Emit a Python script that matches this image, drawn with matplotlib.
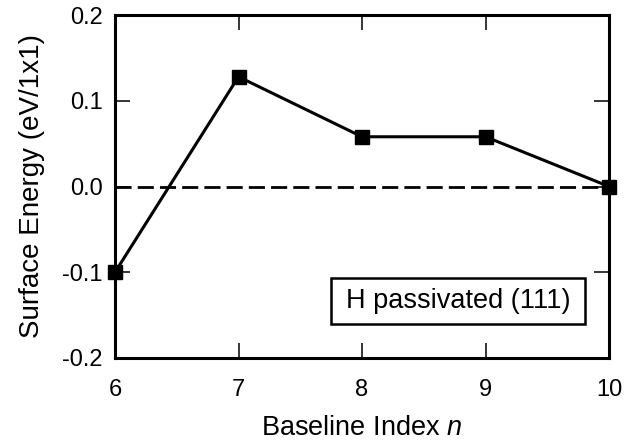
import matplotlib
matplotlib.use("Agg")
import matplotlib.pyplot as plt
from matplotlib.patches import Rectangle

plt.rcParams['font.family'] = ['Liberation Sans', 'DejaVu Sans']
plt.rcParams['mathtext.fontset'] = 'custom'
plt.rcParams['mathtext.rm'] = 'Liberation Sans'
plt.rcParams['mathtext.it'] = 'Liberation Sans:italic'

baseline_index = [6, 7, 8, 9, 10]
surface_energy = [-0.1, 0.128, 0.058, 0.058, 0.0]
x_ticks = [6, 7, 8, 9, 10]
y_ticks = [-0.2, -0.1, 0.0, 0.1, 0.2]
y_tick_labels = ['-0.2', '-0.1', '0.0', '0.1', '0.2']
annotation = 'H passivated (111)'

fig = plt.figure(figsize=(6.33, 4.47), dpi=100)
ax = fig.add_axes([115/633, 1-358/447, (609-115)/633, (358-15)/447])

ax.axhline(0.0, color='black', lw=2.0, ls=(0, (5.8, 2.2)), zorder=1)
ax.plot(baseline_index, surface_energy, color='black', lw=2.2, marker='s',
        markersize=10, clip_on=False, zorder=3)

ax.set_xlim(6, 10)
ax.set_ylim(-0.2, 0.2)
ax.set_xticks(x_ticks)
ax.set_yticks(y_ticks)
ax.set_yticklabels(y_tick_labels)
ax.tick_params(direction='in', top=True, right=True, length=11, width=1.1,
               labelsize=17)
ax.tick_params(axis='x', pad=15)
ax.tick_params(axis='y', pad=9)
for s in ax.spines.values():
    s.set_linewidth(2.2)

ax.set_xlabel('Baseline Index $\\mathit{n}$', fontsize=19.5, labelpad=10)
ax.set_ylabel('Surface Energy (eV/1x1)', fontsize=20, labelpad=12)

ax.add_patch(Rectangle((0.437, 0.099), 0.514, 0.134, transform=ax.transAxes,
                       fc='white', ec='black', lw=1.8, zorder=4))
ax.text(0.694, 0.166, annotation, transform=ax.transAxes,
        ha='center', va='center', fontsize=19.5, zorder=5)

fig.savefig('out.png', dpi=100)
